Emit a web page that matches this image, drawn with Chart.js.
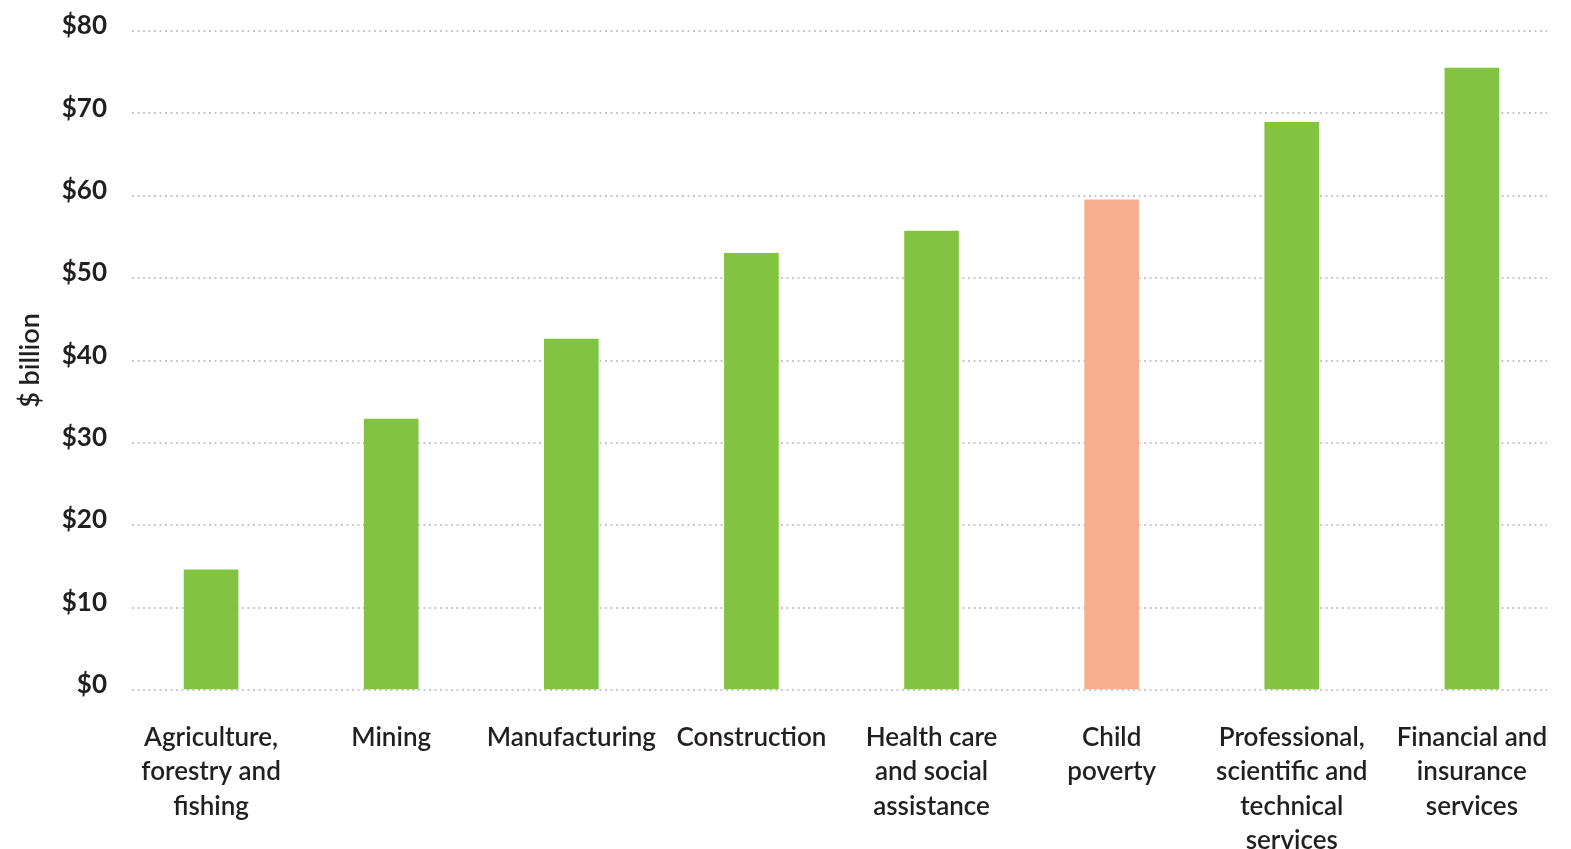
<!DOCTYPE html>
<html>
<head>
<meta charset="utf-8">
<script src="https://cdn.jsdelivr.net/npm/chart.js@4"></script>
<style>
  html, body { margin: 0; padding: 0; background: #ffffff; }
  #wrap { width: 1571px; height: 849px; position: relative; }
</style>
</head>
<body>
<div id="wrap"><canvas id="c" width="1571" height="849"></canvas></div>
<script>
const categories = [
  ["Agriculture,", "forestry and", "fishing"],
  ["Mining"],
  ["Manufacturing"],
  ["Construction"],
  ["Health care", "and social", "assistance"],
  ["Child", "poverty"],
  ["Professional,", "scientific and", "technical", "services"],
  ["Financial and", "insurance", "services"]
];
const values = [14.6, 32.9, 42.6, 53.0, 55.7, 59.5, 68.9, 75.5];
const barColors = ["#82c341", "#82c341", "#82c341", "#82c341", "#82c341", "#f7ae8f", "#82c341", "#82c341"];
const yTicks = [0, 10, 20, 30, 40, 50, 60, 70, 80];
const yTitle = "$ billion";

const FONT = "Lato, 'Open Sans', sans-serif";
const TEXT = "#231f20";

const points = values.map((v, i) => ({ x: i, y: v }));

new Chart(document.getElementById('c'), {
  type: 'bar',
  data: {
    datasets: [{
      data: points,
      backgroundColor: barColors,
      borderWidth: 0,
      barThickness: 54
    }]
  },
  options: {
    responsive: false,
    animation: false,
    events: [],
    layout: { padding: { left: 0, right: 24, top: 31, bottom: 0 } },
    plugins: { legend: { display: false }, tooltip: { enabled: false } },
    scales: {
      x: {
        type: 'linear',
        offset: false,
        min: -0.439,
        max: 7.417,
        grid: { display: false, drawTicks: false },
        border: { display: false },
        afterBuildTicks: (scale) => { scale.ticks = categories.map((_, i) => ({ value: i })); },
        afterFit: (scale) => { scale.height = 159; scale.paddingLeft = 0; scale.paddingRight = 0; },
        ticks: {
          autoSkip: false,
          maxRotation: 0,
          minRotation: 0,
          padding: 30,
          color: TEXT,
          font: { family: FONT, size: 26, weight: 600, lineHeight: 34.5 / 26 },
          callback: (v) => categories[v] || ''
        }
      },
      y: {
        min: 0,
        max: 80,
        afterBuildTicks: (scale) => { scale.ticks = yTicks.map(v => ({ value: v })); },
        afterFit: (scale) => { scale.width = 132; scale.paddingTop = 0; scale.paddingBottom = 0; },
        grid: {
          color: '#c9c9c9',
          lineWidth: 2,
          drawTicks: false
        },
        border: { display: false, dash: [2, 3.5] },
        ticks: {
          padding: 25,
          color: TEXT,
          font: { family: FONT, size: 26, weight: 700, lineHeight: 0.4 },
          callback: (v) => ['$' + v, '']
        },
        title: {
          display: true,
          text: yTitle,
          color: TEXT,
          font: { family: FONT, size: 27, weight: 600, lineHeight: 1.2 },
          padding: { top: 14, bottom: 0 }
        }
      }
    }
  }
});
</script>
</body>
</html>
